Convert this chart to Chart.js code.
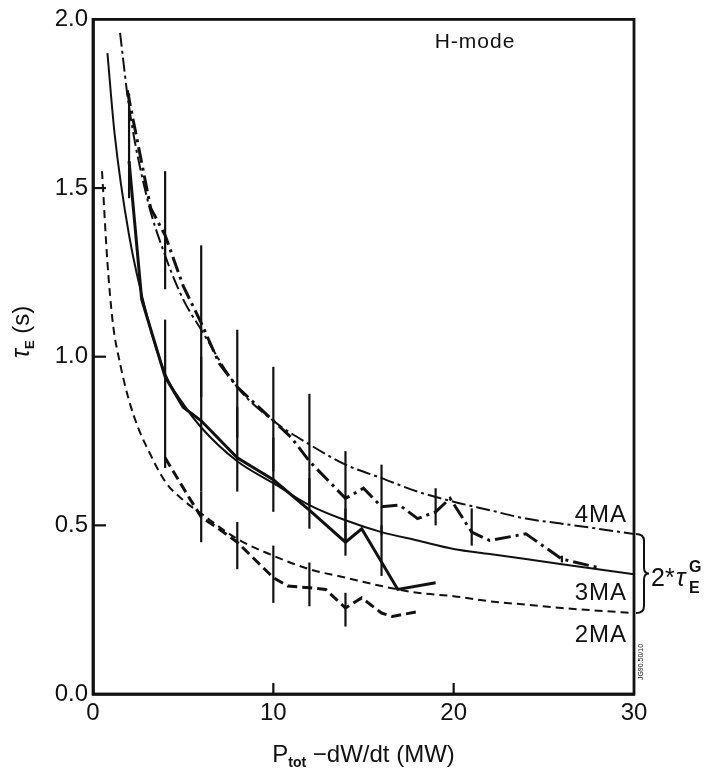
<!DOCTYPE html>
<html>
<head>
<meta charset="utf-8">
<script src="https://cdn.jsdelivr.net/npm/chart.js@4/dist/chart.umd.min.js"></script>
<style>
  body { margin: 0; background: #fff; }
  canvas { display: block; }
</style>
</head>
<body>
<canvas id="tauChart" width="705" height="770"></canvas>
<script>
// 2*tau_E^G scaling curves (thin lines)
const theory4X = [1.5, 2, 3, 4, 5, 6, 8, 10, 12, 14, 16, 18, 20, 22, 24, 26, 28, 30];
const theory4Y = [1.96, 1.74, 1.47, 1.30, 1.17, 1.08, 0.91, 0.81, 0.74, 0.68, 0.64, 0.60, 0.57, 0.545, 0.52, 0.505, 0.49, 0.474];
const theory3X = [0.8, 1.2, 2, 3, 4, 5, 6, 8, 10, 12, 14, 16, 18, 20, 22, 24, 26, 28, 30];
const theory3Y = [1.90, 1.66, 1.36, 1.12, 0.95, 0.86, 0.79, 0.69, 0.625, 0.56, 0.515, 0.48, 0.455, 0.43, 0.415, 0.40, 0.385, 0.37, 0.355];
const theory2X = [0.5, 0.8, 1.1, 1.5, 2, 2.5, 3, 4, 5, 6, 8, 10, 12, 14, 16, 18, 20, 22, 24, 26, 28, 30];
const theory2Y = [1.55, 1.28, 1.10, 0.98, 0.87, 0.79, 0.73, 0.63, 0.575, 0.535, 0.46, 0.41, 0.37, 0.345, 0.32, 0.30, 0.29, 0.275, 0.265, 0.255, 0.247, 0.24];

// measured H-mode points (thick lines)
const data4X = [1.9, 3.2, 4, 5, 6, 7, 8, 10, 11, 12, 14, 15, 16, 17, 18, 19, 19.8, 21, 22, 24, 26, 28];
const data4Y = [1.79, 1.44, 1.36, 1.21, 1.10, 0.98, 0.91, 0.81, 0.76, 0.69, 0.58, 0.61, 0.555, 0.56, 0.52, 0.54, 0.58, 0.48, 0.455, 0.475, 0.40, 0.375];
const data3X = [2, 2.7, 4, 5, 6, 8, 10, 12, 14, 14.9, 15.9, 16.9, 19];
const data3Y = [1.58, 1.17, 0.94, 0.85, 0.81, 0.70, 0.635, 0.545, 0.45, 0.49, 0.40, 0.31, 0.33];
const data2X = [4, 5.3, 6, 7.1, 8, 10, 10.8, 12, 12.9, 14, 14.9, 16, 16.6, 17.9];
const data2Y = [0.70, 0.585, 0.525, 0.485, 0.45, 0.345, 0.32, 0.315, 0.31, 0.255, 0.285, 0.24, 0.23, 0.243];

// error bars
const err4X = [2, 4, 6, 8, 10, 12, 14, 16, 19, 21, 26];
const err4Lo = [1.47, 1.20, 0.88, 0.76, 0.66, 0.56, 0.45, 0.47, 0.50, 0.44, 0.39];
const err4Hi = [1.78, 1.55, 1.33, 1.08, 0.97, 0.89, 0.72, 0.68, 0.61, 0.55, 0.41];
const err3X = [4, 6, 8, 10, 12, 14, 16];
const err3Lo = [0.67, 0.60, 0.60, 0.54, 0.49, 0.41, 0.35];
const err3Hi = [1.11, 1.00, 0.85, 0.76, 0.64, 0.55, 0.50];
const err2X = [6, 8, 10, 12, 14];
const err2Lo = [0.45, 0.37, 0.27, 0.26, 0.20];
const err2Hi = [0.60, 0.51, 0.44, 0.39, 0.30];

const xTicks = [0, 10, 20, 30];
const yTicks = [0, 0.5, 1.0, 1.5, 2.0];
const currentLabels = ['4MA', '3MA', '2MA'];

const ink = '#111';
const fontName = '"Liberation Sans", Arial, sans-serif';

function pts(xs, ys) {
  return xs.map((x, i) => ({ x: x, y: ys[i] }));
}

function line(xs, ys, width, dash, smooth) {
  return {
    data: pts(xs, ys),
    showLine: true,
    borderColor: ink,
    borderWidth: width,
    borderDash: dash,
    pointRadius: 0,
    tension: smooth ? 0.4 : 0,
    cubicInterpolationMode: smooth ? 'monotone' : 'default',
  };
}

// error bars, frame, inward ticks and all the text
const overlay = {
  id: 'overlay',
  afterDatasetsDraw(chart) {
    const ctx = chart.ctx;
    const xs = chart.scales.x;
    const ys = chart.scales.y;
    const a = chart.chartArea;

    ctx.save();
    ctx.strokeStyle = ink;
    ctx.fillStyle = ink;

    // error bars
    ctx.lineWidth = 2.2;
    [[err4X, err4Lo, err4Hi], [err3X, err3Lo, err3Hi], [err2X, err2Lo, err2Hi]].forEach(e => {
      e[0].forEach((x, i) => {
        let px = xs.getPixelForValue(x);
        ctx.beginPath();
        ctx.moveTo(px, ys.getPixelForValue(e[1][i]));
        ctx.lineTo(px, ys.getPixelForValue(e[2][i]));
        ctx.stroke();
      });
    });

    // frame
    ctx.lineWidth = 2.8;
    ctx.strokeRect(a.left, a.top, a.right - a.left, a.bottom - a.top);

    // inward ticks
    ctx.lineWidth = 2.2;
    yTicks.slice(1, -1).forEach(v => {
      let py = ys.getPixelForValue(v);
      ctx.beginPath();
      ctx.moveTo(a.left, py);
      ctx.lineTo(a.left + 13, py);
      ctx.stroke();
    });
    xTicks.slice(1, -1).forEach(v => {
      let px = xs.getPixelForValue(v);
      ctx.beginPath();
      ctx.moveTo(px, a.bottom);
      ctx.lineTo(px, a.bottom - 11);
      ctx.stroke();
    });

    // H-mode
    ctx.font = '21px ' + fontName;
    ctx.textAlign = 'center';
    ctx.textBaseline = 'alphabetic';
    ctx.letterSpacing = '1px';
    ctx.fillText('H-mode', 475, 48);

    // current labels
    ctx.font = '24px ' + fontName;
    ctx.textAlign = 'right';
    let labelY = [0.51, 0.28, 0.155];
    currentLabels.forEach((t, i) => {
      ctx.fillText(t, a.right - 7, ys.getPixelForValue(labelY[i]));
    });
    ctx.letterSpacing = '0px';

    // brace joining the three curves at 30 MW
    let top = ys.getPixelForValue(theory4Y[theory4Y.length - 1]);
    let bot = ys.getPixelForValue(theory2Y[theory2Y.length - 1]);
    let mid = (top + bot) / 2;
    let bx = a.right + 2;
    ctx.lineWidth = 2;
    ctx.beginPath();
    ctx.moveTo(bx, top);
    ctx.quadraticCurveTo(bx + 8, top, bx + 8, top + 7);
    ctx.lineTo(bx + 8, mid - 6);
    ctx.quadraticCurveTo(bx + 8, mid, bx + 13, mid);
    ctx.quadraticCurveTo(bx + 8, mid, bx + 8, mid + 6);
    ctx.lineTo(bx + 8, bot - 7);
    ctx.quadraticCurveTo(bx + 8, bot, bx, bot);
    ctx.stroke();

    // 2*tau_E^G
    ctx.textAlign = 'left';
    ctx.font = '25px ' + fontName;
    ctx.fillText('2*', 651, mid + 12);
    ctx.font = 'italic 25px ' + fontName;
    ctx.fillText('τ', 676, mid + 12);
    ctx.font = 'bold 16px ' + fontName;
    ctx.fillText('G', 689, mid - 2);
    ctx.fillText('E', 689, mid + 19);

    // small figure code
    ctx.save();
    ctx.translate(643, 662);
    ctx.rotate(-Math.PI / 2);
    ctx.font = '7px ' + fontName;
    ctx.textAlign = 'center';
    ctx.fillText('JG90.50/10', 0, 0);
    ctx.restore();

    // x axis title
    ctx.font = '24px ' + fontName;
    let cx = (a.left + a.right) / 2;
    let p1 = 'P', p2 = 'tot', p3 = ' \u2212dW/dt (MW)';
    let w1 = ctx.measureText(p1).width;
    let w3 = ctx.measureText(p3).width;
    ctx.font = 'bold 14px ' + fontName;
    let w2 = ctx.measureText(p2).width;
    let startX = cx - (w1 + w2 + w3) / 2;
    ctx.font = '24px ' + fontName;
    ctx.fillText(p1, startX, 762);
    ctx.font = 'bold 14px ' + fontName;
    ctx.fillText(p2, startX + w1, 767);
    ctx.font = '24px ' + fontName;
    ctx.fillText(p3, startX + w1 + w2, 762);

    // y axis title
    ctx.translate(29, 332);
    ctx.rotate(-Math.PI / 2);
    ctx.font = 'italic 25px ' + fontName;
    let wt = ctx.measureText('τ').width;
    ctx.font = 'bold 13px ' + fontName;
    let we = ctx.measureText('E').width;
    ctx.font = '24px ' + fontName;
    let ws = ctx.measureText(' (s)').width;
    let sx = -(wt + we + ws) / 2;
    ctx.font = 'italic 25px ' + fontName;
    ctx.fillText('τ', sx, 0);
    ctx.font = 'bold 13px ' + fontName;
    ctx.fillText('E', sx + wt, 5);
    ctx.font = '24px ' + fontName;
    ctx.fillText(' (s)', sx + wt + we, 0);

    ctx.restore();
  }
};

let ctxTau = document.getElementById('tauChart').getContext('2d');

let tauChart = new Chart(ctxTau, {
  type: 'scatter',
  data: {
    datasets: [
      line(theory4X, theory4Y, 2, [14, 4, 3, 4], true),
      line(theory3X, theory3Y, 2, [], true),
      line(theory2X, theory2Y, 2, [8, 5], true),
      line(data4X, data4Y, 3, [16, 5, 3, 5], false),
      line(data3X, data3Y, 3, [], false),
      line(data2X, data2Y, 3, [10, 5], false),
    ]
  },
  options: {
    responsive: false,
    animation: false,
    devicePixelRatio: 1,
    layout: { padding: { left: 0, top: 19, right: 71, bottom: 0 } },
    plugins: {
      legend: { display: false },
      tooltip: { enabled: false },
    },
    scales: {
      x: {
        type: 'linear',
        min: 0,
        max: 30,
        afterBuildTicks: (scale) => { scale.ticks = xTicks.map(v => ({ value: v })); },
        afterFit: (scale) => { scale.height = 76; },
        grid: { display: false, drawTicks: false },
        border: { display: true, color: ink, width: 2.8 },
        ticks: {
          padding: 5,
          color: ink,
          font: { family: fontName, size: 24 },
          maxRotation: 0,
          callback: (v) => v,
        }
      },
      y: {
        type: 'linear',
        min: 0,
        max: 2,
        afterBuildTicks: (scale) => { scale.ticks = yTicks.map(v => ({ value: v })); },
        afterFit: (scale) => { scale.width = 93; },
        grid: { display: false, drawTicks: false },
        border: { display: true, color: ink, width: 2.8 },
        ticks: {
          padding: 5,
          color: ink,
          font: { family: fontName, size: 24 },
          callback: (v) => v.toFixed(1),
        }
      }
    }
  },
  plugins: [overlay]
});
</script>
</body>
</html>
